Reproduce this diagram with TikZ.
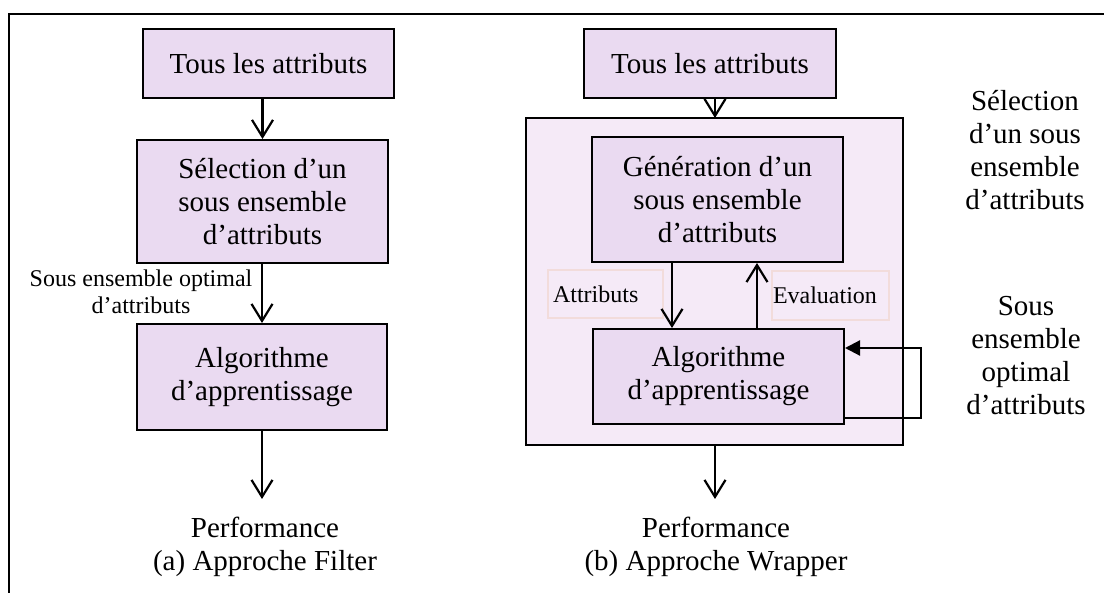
\documentclass[tikz,border=0pt]{standalone}
\usepackage{fontspec}
\setmainfont{Liberation Serif}
\usetikzlibrary{arrows.meta}
\definecolor{boxfill}{HTML}{EADAF1}
\definecolor{outerfill}{HTML}{F5EAF7}
\definecolor{tagline}{HTML}{F2DCDB}
\tikzset{
  bigtext/.style={font=\fontsize{29}{33}\selectfont, align=center},
  smalltext/.style={font=\fontsize{24}{27}\selectfont, align=center},
  stepbox/.style={draw=black, line width=2pt, fill=boxfill, bigtext, inner sep=0pt},
  tagbox/.style={draw=tagline, line width=1.5pt, font=\fontsize{24}{27}\selectfont, align=left, inner ysep=0pt},
  flow/.style={line width=2.4pt, -{Straight Barb[length=17pt,width=21pt,line width=2.2pt]}},
  loop/.style={line width=2.2pt, -{Triangle[length=15pt,width=15pt]}},
}
\begin{document}
\begin{tikzpicture}[x=1pt,y=-1pt]
\useasboundingbox (0,0) rectangle (1104,593);
% frame
\draw[line width=2pt] (9,593) -- (9,14) -- (1104,14);

% ---- (a) filter approach ----
\node[stepbox, minimum width=251pt, minimum height=69pt] (a1) at (268.5,63.5) {Tous les attributs};
\node[stepbox, minimum width=251pt, minimum height=123pt] (a2) at (262.5,201.5) {Sélection d’un\\sous ensemble\\d’attributs};
\node[stepbox, minimum width=250pt, minimum height=106pt] (a3) at (262,377) {Algorithme\\d’apprentissage};
\node[smalltext] (sopt) at (141,292) {Sous ensemble optimal\\d’attributs};
\node[bigtext] (perfa) at (265,547) {Performance\\(a) Approche Filter};
\coordinate (endA) at (262,499);
\draw[flow] (a2.north |- a1.south) -- (a2.north);
\draw[flow] (a3.north |- a2.south) -- (a3.north);
\draw[flow] (a3.south) -- (endA);

% ---- (b) wrapper approach ----
\node[stepbox, minimum width=252pt, minimum height=69pt] (b1) at (710,63.5) {Tous les attributs};
\node[draw=black, line width=2pt, fill=outerfill, minimum width=377pt, minimum height=327pt, inner sep=0pt] (wrap) at (714.5,281.5) {};
\node[stepbox, minimum width=251pt, minimum height=125pt] (b2) at (717.5,199.5) {Génération d’un\\sous ensemble\\d’attributs};
\node[stepbox, minimum width=251pt, minimum height=95pt] (b3) at (718.5,376.5) {Algorithme\\d’apprentissage};
\node[tagbox, inner xsep=5pt, text width=105pt, minimum height=48pt] (tattr) at (605.5,294) {Attributs};
\node[tagbox, inner xsep=1pt, text width=115pt, minimum height=49pt] (teval) at (830.5,295.5) {Evaluation};
\node[bigtext] (perfb) at (716,547) {Performance\\(b) Approche Wrapper};
\coordinate (topB) at (715,118);
\coordinate (endB) at (715,499);
\coordinate (dnS) at (672,262);
\coordinate (upS) at (757,329);
\coordinate (loopR) at (921,383);
\draw[flow] (topB |- b1.south) -- (topB);
\draw[flow] (dnS) -- (dnS |- b3.north);
\draw[flow] (upS) -- (upS |- b2.south);
\draw[loop] ([yshift=7pt]b3.south east) -| (loopR) |- ([yshift=-20pt]b3.north east);
\draw[flow] (topB |- wrap.south) -- (endB);

% side captions
\node[bigtext] (selcap) at (1025,150) {Sélection\\d’un sous\\ensemble\\d’attributs};
\node[bigtext] (optcap) at (1026,356) {Sous\\ensemble\\optimal\\d’attributs};
\end{tikzpicture}
\end{document}
